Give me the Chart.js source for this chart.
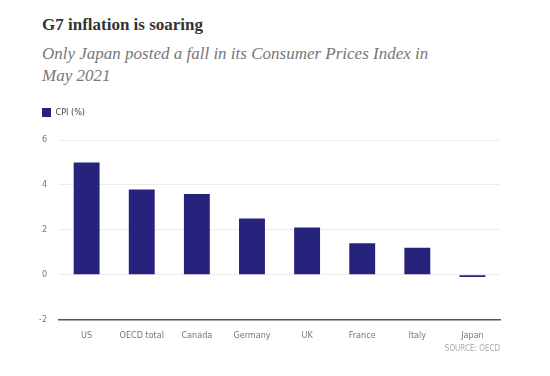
<!DOCTYPE html>
<html>
<head>
<meta charset="utf-8">
<script src="https://cdn.jsdelivr.net/npm/chart.js@4/dist/chart.umd.min.js"></script>
<style>
  html, body { margin: 0; padding: 0; background: #fff; }
  #wrap { position: relative; width: 550px; height: 376px; overflow: hidden; }
  #title {
    position: absolute; left: 42px; top: 15px;
    font: bold 17px 'Liberation Serif', serif; color: #333;
  }
  #subtitle {
    position: absolute; left: 42px; top: 43px; width: 480px;
    font: italic 17px/22px 'Liberation Serif', serif; color: #777;
  }
  #box { position: absolute; left: 0; top: 93px; width: 550px; height: 283px; }
</style>
</head>
<body>
<div id="wrap">
  <div id="title">G7 inflation is soaring</div>
  <div id="subtitle">Only Japan posted a fall in its Consumer Prices Index in<br>May 2021</div>
  <div id="box"><canvas id="chart"></canvas></div>
</div>
<script>
'use strict';

// data
const countries = ['US', 'OECD total', 'Canada', 'Germany', 'UK', 'France', 'Italy', 'Japan'];
const cpi = [5.0, 3.8, 3.6, 2.5, 2.1, 1.4, 1.2, -0.1];
const yTicks = [-2, 0, 2, 4, 6];

const NARROW = "'DejaVu Sans Condensed', 'Liberation Sans Narrow', sans-serif";

// leave a gap under the legend, like the original
const legendGap = {
  id: 'legendGap',
  beforeInit(chart) {
    const fit = chart.legend.fit;
    chart.legend.fit = function () {
      fit.call(this);
      this.height = 47;
    };
  },
};

new Chart(document.getElementById('chart'), {
  type: 'bar',
  data: {
    labels: countries,
    datasets: [{
      label: 'CPI (%)',
      data: cpi,
      backgroundColor: '#27237c',
      barPercentage: 0.47,
      categoryPercentage: 1,
    }],
  },
  options: {
    responsive: true,
    maintainAspectRatio: false,
    animation: false,
    layout: { padding: { left: 27, right: 50, top: 0, bottom: 22 } },
    plugins: {
      legend: {
        display: true,
        align: 'start',
        labels: {
          boxWidth: 9, boxHeight: 9, padding: 15,
          color: '#444',
          font: { family: NARROW, size: 9 },
        },
      },
      tooltip: { enabled: false },
    },
    scales: {
      x: {
        grid: { display: false },
        border: { display: true, color: '#555', width: 1.5 },
        ticks: { color: '#777', font: { family: NARROW, size: 9 }, padding: 3, maxRotation: 0 },
        title: {
          display: true, text: 'SOURCE: OECD', align: 'end',
          color: '#aaa', font: { family: NARROW, size: 8 }, padding: { top: 0, bottom: 0 },
        },
      },
      y: {
        min: Math.min(...yTicks),
        max: Math.max(...yTicks),
        border: { display: false },
        grid: { color: '#ececec', drawTicks: false },
        ticks: { stepSize: 2, color: '#777', font: { family: NARROW, size: 9 }, padding: 12 },
      },
    },
  },
  plugins: [legendGap],
});
</script>
</body>
</html>
